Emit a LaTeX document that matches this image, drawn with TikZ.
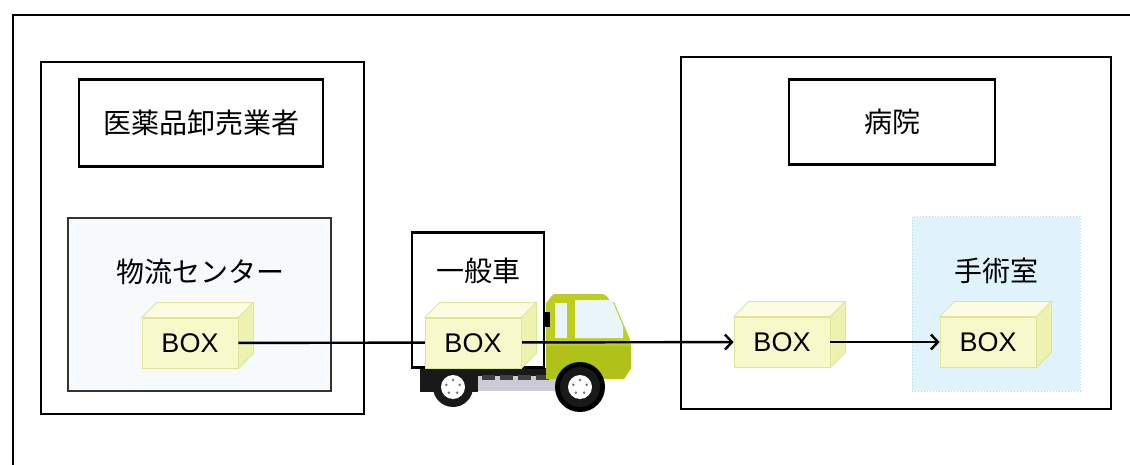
\documentclass[tikz,border=0pt]{standalone}
\usepackage{fontspec}
\setmainfont{Noto Sans CJK JP}
\newfontfamily\boxfont{Liberation Sans}
\usetikzlibrary{arrows.meta,shapes}
\definecolor{boxfill}{RGB}{247,249,202}
\definecolor{boxtop}{RGB}{251,252,226}
\definecolor{boxside}{RGB}{238,242,176}
\definecolor{boxline}{RGB}{224,230,150}
\definecolor{dcfill}{RGB}{246,250,252}
\definecolor{orfill}{RGB}{224,243,250}
\definecolor{orline}{RGB}{178,224,238}
\definecolor{truckgreen}{RGB}{190,206,32}
\definecolor{truckdark}{RGB}{176,194,26}
\definecolor{glass}{RGB}{234,245,249}
\definecolor{deck}{RGB}{204,202,214}
\tikzstyle{frame}=[draw=black,line width=2.8pt,fill=white]
\tikzstyle{title}=[rectangle,draw=black,line width=2.4pt,font=\fontsize{28}{30}\selectfont]
\tikzstyle{label}=[font=\fontsize{28}{30}\selectfont]
\tikzstyle{cargo}=[rectangle,draw=boxline,fill=boxfill,line width=0.8pt,minimum width=96pt,minimum height=50pt,inner sep=0pt,font=\boxfont\fontsize{27}{30}\selectfont]
\tikzstyle{flow}=[-{Straight Barb[length=7pt,width=15pt]},line width=2.4pt]
\pgfdeclarelayer{front}
\pgfsetlayers{main,front}

\begin{document}
\begin{tikzpicture}[x=1pt,y=-1pt]
\clip (0,0) rectangle (1130,465);
\draw[line width=2.8pt] (13,480) -- (13,15) -- (1140,15);
% wholesaler side
\draw[frame] (41,62) rectangle (364,414);
\node[title,minimum width=244pt,minimum height=87pt] (whl) at (201,123) {医薬品卸売業者};
\draw[draw=black!80,line width=1.6pt,fill=dcfill] (68,218) rectangle (331,391);
\node[label] (dc) at (200,272) {物流センター};
% hospital side
\draw[frame] (681,57) rectangle (1111,409);
\node[title,minimum width=206pt,minimum height=85pt] (hosp) at (892,122) {病院};
\draw[draw=orline,line width=1pt,dotted,fill=orfill] (912,217) rectangle (1080,391);
\node[label] (or) at (996,271) {手術室};
% truck
\fill[black!90] (420,368) rectangle (562,379);
\fill[black!90] (420,368) rectangle (478,392);
\fill[deck] (478,376) rectangle (562,391);
\foreach \dx in {482,500,518,536} \fill[black!75] (\dx,375) rectangle (\dx+13,380);
\fill[truckgreen] (546,378) -- (546,302) to[out=-90,in=180] (555,294) -- (603,294) to[out=0,in=-135] (614,302) -- (626,330) to[out=-70,in=90] (631,346) -- (631,368) -- (624,379) -- cycle;
\fill[truckdark] (546,346) -- (631,346) -- (631,368) -- (624,379) -- (546,379) -- cycle;
\fill[glass] (555,303) rectangle (567,338);
\fill[glass] (575,300) -- (612,300) -- (623,326) -- (623,338) -- (575,338) -- cycle;
\fill[black] (544,312) rectangle (550,327);
\fill[black] (580,387) circle (25pt);
\foreach \wx in {453,580} {\fill[black!90] (\wx,387) circle (20pt); \fill[white] (\wx,387) circle (12pt);
  \foreach \a in {18,90,...,306} \fill[black!55] (\wx,387) ++(\a:7pt) circle (1.4pt);}
\node[draw=black,line width=2.4pt,fill=white,minimum width=132pt,minimum height=135pt] (car) at (478,300) {};
\node[label] (carlbl) at (478,271) {一般車};
% boxes
\node[cargo] (b1) at (190,343) {BOX};
\node[cargo] (b3) at (782,342) {BOX};
\node[cargo] (b4) at (988,342) {BOX};
\begin{pgfonlayer}{front}
\node[cargo] (b2) at (473,343) {BOX};
\end{pgfonlayer}
\foreach \b in {b1,b2,b3,b4} {
  \draw[draw=boxline,fill=boxtop,line width=0.8pt] (\b.north west) -- ([shift={(15,-15)}]\b.north west) -- ([shift={(15,-15)}]\b.north east) -- (\b.north east) -- cycle;
  \draw[draw=boxline,fill=boxside,line width=0.8pt] (\b.north east) -- ([shift={(15,-15)}]\b.north east) -- ([shift={(15,-15)}]\b.south east) -- (\b.south east) -- cycle;}
\draw[flow] (b1) -- (b3);\draw[flow] (b3) -- (b4);
\end{tikzpicture}
\end{document}
